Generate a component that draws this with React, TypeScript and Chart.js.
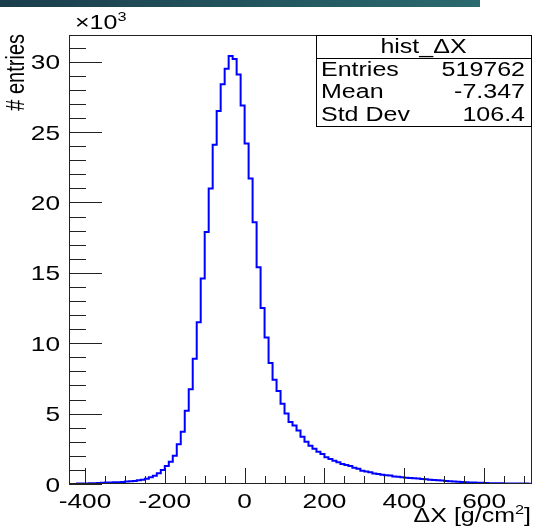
import React, { useEffect, useRef } from "react";
import { Chart, registerables } from "chart.js";

Chart.register(...registerables);

// ---- data ----
const X_MIN = -440;
const X_MAX = 720;
const BIN_WIDTH = 10;
const Y_MAX_K = 31.9;

// bin contents in thousands of entries, bins of width 10 from -440 to 720
const countsK = [
  0.0, 0.0, 0.03, 0.03, 0.04, 0.05, 0.06, 0.07, 0.08, 0.1,
  0.11, 0.12, 0.13, 0.15, 0.17, 0.19, 0.22, 0.26, 0.3, 0.38,
  0.48, 0.59, 0.76, 0.99, 1.28, 1.58, 2.01, 2.82, 3.72, 5.21,
  6.73, 8.9, 11.5, 14.6, 17.9, 21.0, 24.1, 26.5, 28.4, 29.5,
  30.4, 30.2, 29.1, 26.9, 24.2, 21.7, 18.6, 15.4, 12.5, 10.4,
  8.6, 7.4, 6.6, 5.7, 5.0, 4.4, 4.15, 3.8, 3.36, 3.0,
  2.72, 2.51, 2.3, 2.13, 1.9, 1.78, 1.66, 1.54, 1.42, 1.35,
  1.28, 1.15, 1.08, 0.95, 0.88, 0.83, 0.75, 0.71, 0.66, 0.63,
  0.6, 0.54, 0.51, 0.48, 0.45, 0.43, 0.41, 0.39, 0.36, 0.33,
  0.3, 0.28, 0.26, 0.24, 0.22, 0.2, 0.18, 0.16, 0.14, 0.12,
  0.11, 0.1, 0.09, 0.08, 0.07, 0.06, 0.06, 0.05, 0.05, 0.04,
  0.04, 0.04, 0.03, 0.03, 0.03, 0.02,
];

const xTickLabels = [-400, -200, 0, 200, 400, 600];
const yTickLabels = [0, 5, 10, 15, 20, 25, 30];
const xMinorStep = 50;
const yMinorStep = 1;

const statsTitle = "hist_ΔX";
const statsNames = ["Entries", "Mean", "Std Dev"];
const statsValues = ["519762", "-7.347", "106.4"];

const yAxisTitle = "# entries";
const xAxisTitleMain = "ΔX [g/cm";
const xAxisTitleSup = "2";
const xAxisTitleEnd = "]";
const yExponentMain = "×10";
const yExponentSup = "3";

// ---- style ----
const FONT = '"Liberation Sans", Arial, Helvetica, sans-serif';
const SX = 1.25;
const LINE_BLUE = "#0000ff";

type Part = { t: string; size: number; dy?: number };

function partsWidth(ctx: CanvasRenderingContext2D, parts: Part[]) {
  let w = 0;
  for (const p of parts) {
    ctx.font = `${p.size}px ${FONT}`;
    w += ctx.measureText(p.t).width;
  }
  return w;
}

function drawParts(
  ctx: CanvasRenderingContext2D,
  parts: Part[],
  x: number,
  y: number,
  align: "left" | "right" | "center",
  rot = 0
) {
  ctx.save();
  ctx.translate(x, y);
  ctx.scale(SX, 1);
  if (rot) ctx.rotate(rot);
  const w = partsWidth(ctx, parts);
  let cx = align === "left" ? 0 : align === "right" ? -w : -w / 2;
  ctx.textAlign = "left";
  ctx.textBaseline = "alphabetic";
  ctx.fillStyle = "#000";
  for (const p of parts) {
    ctx.font = `${p.size}px ${FONT}`;
    ctx.fillText(p.t, cx, -(p.dy || 0));
    cx += ctx.measureText(p.t).width;
  }
  ctx.restore();
}

function txt(
  ctx: CanvasRenderingContext2D,
  s: string,
  x: number,
  y: number,
  align: "left" | "right" | "center",
  size = 20,
  rot = 0
) {
  drawParts(ctx, [{ t: s, size }], x, y, align, rot);
}

const rootStylePlugin = {
  id: "rootStyle",
  afterDatasetsDraw(chart: any) {
    const ctx: CanvasRenderingContext2D = chart.ctx;
    const { left, right, top, bottom } = chart.chartArea;
    const xs = chart.scales.x;
    const ys = chart.scales.y;

    ctx.save();
    // frame
    ctx.strokeStyle = "#222";
    ctx.lineWidth = 1;
    ctx.strokeRect(left + 0.5, top + 0.5, right - left - 1, bottom - top - 1);

    // y ticks
    ctx.beginPath();
    for (let v = 0; v <= Y_MAX_K + 1e-9; v += yMinorStep) {
      const py = Math.round(ys.getPixelForValue(v)) + 0.5;
      const len = Math.abs(v % 5) < 1e-9 ? 33 : 17;
      ctx.moveTo(left, py);
      ctx.lineTo(left + len, py);
    }
    // x ticks
    const first = Math.ceil(X_MIN / xMinorStep) * xMinorStep;
    for (let v = first; v <= X_MAX; v += xMinorStep) {
      const px = Math.round(xs.getPixelForValue(v)) + 0.5;
      const len = Math.abs(v % 200) < 1e-9 ? 16 : 8;
      ctx.moveTo(px, bottom);
      ctx.lineTo(px, bottom - len);
    }
    ctx.stroke();

    // tick labels from the scales
    for (const t of ys.ticks) {
      const py = ys.getPixelForValue(t.value);
      txt(ctx, String(t.value), left - 9, py + 7.5, "right", 21);
    }
    for (const t of xs.ticks) {
      const px = xs.getPixelForValue(t.value);
      txt(ctx, String(t.value), px, 508, "center", 21);
    }

    // exponent
    drawParts(
      ctx,
      [
        { t: yExponentMain, size: 20 },
        { t: yExponentSup, size: 13, dy: 8 },
      ],
      75,
      29,
      "left"
    );

    // y title (rotated)
    txt(ctx, yAxisTitle, 24, 34, "right", 20, -Math.PI / 2);

    // x title
    drawParts(
      ctx,
      [
        { t: xAxisTitleMain, size: 20 },
        { t: xAxisTitleSup, size: 13, dy: 8 },
        { t: xAxisTitleEnd, size: 20 },
      ],
      531,
      522,
      "right"
    );

    // stats box
    const bx0 = 316, bx1 = right - 1, by0 = top, by1 = 126, sep = 58;
    ctx.fillStyle = "#fff";
    ctx.fillRect(bx0, by0, bx1 - bx0, by1 - by0);
    ctx.strokeStyle = "#000";
    ctx.lineWidth = 1;
    ctx.strokeRect(bx0 + 0.5, by0 + 0.5, bx1 - bx0, by1 - by0);
    ctx.beginPath();
    ctx.moveTo(bx0, sep + 0.5);
    ctx.lineTo(bx1, sep + 0.5);
    ctx.stroke();
    txt(ctx, statsTitle, (bx0 + bx1) / 2, 53, "center", 20);
    const rowsY = [76, 98, 121];
    statsNames.forEach((n, i) => {
      txt(ctx, n, 321, rowsY[i], "left", 20);
      txt(ctx, statsValues[i], 525, rowsY[i], "right", 20);
    });
    ctx.restore();
  },
};

export default function App() {
  const ref = useRef<HTMLCanvasElement | null>(null);

  useEffect(() => {
    if (!ref.current) return;
    const points = countsK.map((v, i) => ({ x: X_MIN + i * BIN_WIDTH, y: v }));
    points.push({ x: X_MAX, y: countsK[countsK.length - 1] });

    const chart = new Chart(ref.current, {
      type: "line",
      data: {
        datasets: [
          {
            data: points,
            borderColor: LINE_BLUE,
            borderWidth: 2,
            stepped: true,
            pointRadius: 0,
            fill: false,
            tension: 0,
          },
        ],
      },
      options: {
        responsive: false,
        animation: false,
        layout: { padding: { top: 35, right: 6, left: 0, bottom: 0 } },
        plugins: {
          legend: { display: false },
          tooltip: { enabled: false },
        },
        scales: {
          x: {
            type: "linear",
            min: X_MIN,
            max: X_MAX,
            grid: { display: false, drawTicks: false },
            border: { display: false },
            ticks: { display: false },
            afterBuildTicks: (s: any) => {
              s.ticks = xTickLabels.map((v) => ({ value: v }));
            },
            afterFit: (s: any) => {
              s.height = 42;
            },
          },
          y: {
            type: "linear",
            min: 0,
            max: Y_MAX_K,
            grid: { display: false, drawTicks: false },
            border: { display: false },
            ticks: { display: false },
            afterBuildTicks: (s: any) => {
              s.ticks = yTickLabels.map((v) => ({ value: v }));
            },
            afterFit: (s: any) => {
              s.width = 69;
            },
          },
        },
      },
      plugins: [rootStylePlugin],
    });
    return () => chart.destroy();
  }, []);

  return (
    <div
      style={{
        position: "fixed",
        left: 0,
        top: 0,
        width: 538,
        height: 526,
        background: "#fff",
        overflow: "hidden",
      }}
    >
      <div
        style={{
          position: "absolute",
          left: 0,
          top: 0,
          width: 480,
          height: 7,
          background: "linear-gradient(to right, #1a3d4c, #2b6a6e)",
        }}
      />
      <canvas
        ref={ref}
        width={538}
        height={526}
        style={{ position: "absolute", left: 0, top: 0, width: 538, height: 526 }}
      />
    </div>
  );
}
